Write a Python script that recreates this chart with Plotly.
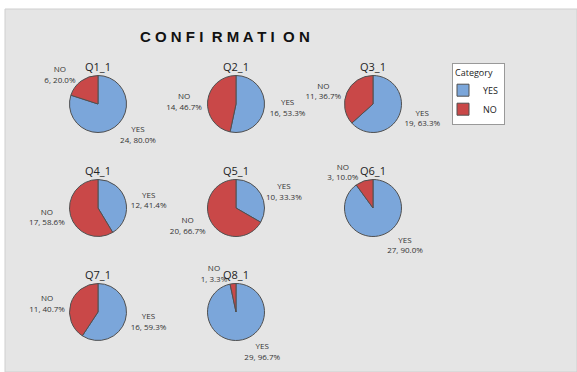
import plotly.graph_objects as go

W, H = 577, 372

questions = ["Q1_1", "Q2_1", "Q3_1", "Q4_1", "Q5_1", "Q6_1", "Q7_1", "Q8_1"]
yes_counts = [24, 16, 19, 12, 10, 27, 16, 29]
no_counts = [6, 14, 11, 17, 20, 3, 11, 1]
categories = ["YES", "NO"]
colors = ["#7ba6da", "#c94848"]

# pixel layout: centers of each pie
centers = [(98, 104), (236, 104), (373, 104),
           (98, 208), (236, 208), (373, 208),
           (98, 312), (236, 312)]
R = 28.5

lab_font = dict(size=8, color="#333333", family="Open Sans")

fig = go.Figure()
for q, y, n, (cx, cy) in zip(questions, yes_counts, no_counts, centers):
    fig.add_trace(go.Pie(
        labels=categories,
        values=[y, n],
        sort=False,
        direction="clockwise",
        rotation=0,
        marker=dict(colors=colors, line=dict(color="#505050", width=1)),
        textposition="outside",
        texttemplate="%{label}<br>%{value}, %{percent:.1%}",
        textfont=lab_font,
        outsidetextfont=lab_font,
        hole=0,
        domain=dict(x=[(cx - R) / W, (cx + R) / W],
                    y=[1 - (cy + R) / H, 1 - (cy - R) / H]),
        showlegend=True,
        name=q,
    ))

annotations = []
for q, (cx, cy) in zip(questions, centers):
    annotations.append(dict(
        text=q, x=cx / W, y=1 - (cy - 38) / H, xref="paper", yref="paper",
        showarrow=False, xanchor="center", yanchor="middle",
        font=dict(size=11, color="#222222", family="Open Sans")))
annotations.append(dict(
    text="<b>C O N F I  R M A T I  O N</b>", x=225 / W, y=1 - 36 / H,
    xref="paper", yref="paper", showarrow=False, xanchor="center",
    yanchor="middle", font=dict(size=15, color="#111111", family="Liberation Sans")))

fig.update_layout(
    width=W, height=H,
    margin=dict(l=0, r=0, t=0, b=0),
    paper_bgcolor="white",
    plot_bgcolor="white",
    shapes=[dict(type="rect", xref="paper", yref="paper",
                 x0=5 / W, x1=1, y0=0, y1=1 - 9 / H,
                 fillcolor="#e5e5e5", line=dict(color="#cfcfcf", width=1),
                 layer="below")],
    annotations=annotations,
    legend=dict(
        title=dict(text="Category", side="top",
                   font=dict(size=9, color="#222222", family="Open Sans")),
        x=452 / W, y=1 - 63 / H, xanchor="left", yanchor="top",
        bgcolor="white", bordercolor="#999999", borderwidth=1,
        font=dict(size=9, color="#222222", family="Open Sans"),
        itemwidth=30, tracegroupgap=0, indentation=-10,
    ),
)

fig.write_html("out.html")
